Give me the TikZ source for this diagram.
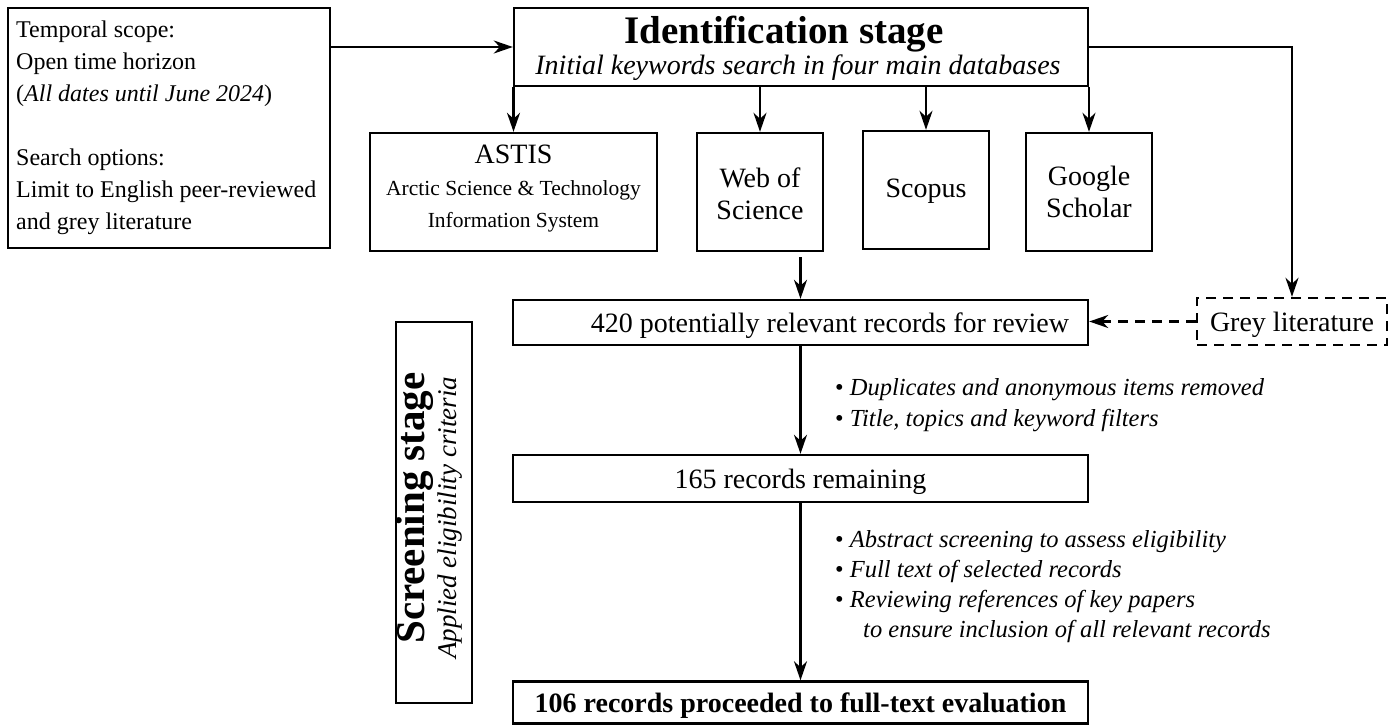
\documentclass[tikz,border=0pt]{standalone}
\usepackage{fontspec}
\setmainfont{Liberation Serif}
\usetikzlibrary{arrows.meta}
\newcommand\myfs[1]{\fontsize{#1}{#1}\selectfont}
\begin{document}
\begin{tikzpicture}[x=1pt,y=-1pt,
  box/.style={draw, line width=2.4pt, inner sep=0pt},
  arr/.style={line width=2.4pt, -{Stealth[length=19pt,width=13pt,inset=6pt]}},
  txt/.style={inner sep=0pt, anchor=base},
  ltxt/.style={inner sep=0pt, anchor=base west},
  body/.style={font=\myfs{24}},
  dbf/.style={font=\myfs{28}},
  bul/.style={font=\myfs{24.5}},
]
\useasboundingbox (0,0) rectangle (1398,726);

% boxes
\node[box, minimum width=322pt, minimum height=240pt] (scope) at (169,128) {};
\node[box, minimum width=574pt, minimum height=78pt] (ident) at (801,47) {};
\node[box, minimum width=287pt, minimum height=118pt] (astis) at (513.5,192) {};
\node[box, minimum width=126pt, minimum height=118pt] (wos) at (760,192) {};
\node[box, minimum width=126pt, minimum height=118pt] (scopus) at (926,190) {};
\node[box, minimum width=126pt, minimum height=118pt] (google) at (1089,192) {};
\node[box, minimum width=575pt, minimum height=45pt] (r420) at (800.5,322.5) {};
\node[box, dash pattern=on 10pt off 7pt, minimum width=190pt, minimum height=47pt] (grey) at (1292,321.5) {};
\node[box, minimum width=575pt, minimum height=47pt] (r165) at (800.5,478.5) {};
\node[box, minimum width=575pt, minimum height=42pt] (r106) at (800.5,702.5) {};
\node[box, minimum width=76pt, minimum height=381pt] (screen) at (434,512.5) {};

% texts: scope box
\node[ltxt, body] (l1) at (16,37) {Temporal scope:};
\node[ltxt, body] (l2) at (16,69) {Open time horizon};
\node[ltxt, body] (l3) at (16,101) {(\textit{All dates until June 2024})};
\node[ltxt, body] (l4) at (16,165) {Search options:};
\node[ltxt, body] (l5) at (16,197) {Limit to English peer-reviewed};
\node[ltxt, body] (l6) at (16,229) {and grey literature};

% identification
\node[txt, font=\myfs{39}\bfseries] (idt) at (784,43) {Identification stage};
\node[txt, font=\myfs{28}\itshape] (ids) at (798,74) {Initial keywords search in four main databases};

% databases
\node[txt, dbf] (a1) at (513.5,163) {ASTIS};
\node[txt, font=\myfs{21.5}] (a2) at (513.5,195) {Arctic Science \& Technology};
\node[txt, font=\myfs{21.5}] (a3) at (513.5,227) {Information System};
\node[txt, dbf] (w1) at (760,187) {Web of};
\node[txt, dbf] (w2) at (760,219) {Science};
\node[txt, dbf] (s1) at (926,197) {Scopus};
\node[txt, dbf] (g1) at (1089,185) {Google};
\node[txt, dbf] (g2) at (1089,217) {Scholar};

% records
\node[txt, dbf] (t420) at (830,332) {420 potentially relevant records for review};
\node[txt, dbf] (tgrey) at (1292,331) {Grey literature};
\node[txt, dbf] (t165) at (800.5,488) {165 records remaining};
\node[txt, font=\myfs{28}\bfseries] (t106) at (800.5,712) {106 records proceeded to full-text evaluation};

% bullets
\node[ltxt, bul] (b1) at (835,395) {\textbullet\ \textit{Duplicates and anonymous items removed}};
\node[ltxt, bul] (b2) at (835,426) {\textbullet\ \textit{Title, topics and keyword filters}};
\node[ltxt, bul] (b3) at (835,547) {\textbullet\ \textit{Abstract screening to assess eligibility}};
\node[ltxt, bul] (b4) at (835,577) {\textbullet\ \textit{Full text of selected records}};
\node[ltxt, bul] (b5) at (835,607) {\textbullet\ \textit{Reviewing references of key papers}};
\node[ltxt, bul] (b6) at (863,637) {\textit{to ensure inclusion of all relevant records}};

% screening
\node[txt, rotate=90, font=\myfs{41}\bfseries] (sc1) at (424,508) {Screening stage};
\node[txt, rotate=90, font=\myfs{27}\itshape] (sc2) at (456,518) {Applied eligibility criteria};

% connectors
\coordinate (wosout) at (800.5,257);
\draw[arr] (scope.east |- ident.west) -- (ident.west);
\draw[arr] (astis.north |- ident.south) -- (astis.north);
\draw[arr] (wos.north |- ident.south) -- (wos.north);
\draw[arr] (scopus.north |- ident.south) -- (scopus.north);
\draw[arr] (google.north |- ident.south) -- (google.north);
\draw[arr] (ident.east) -| (grey.north);
\draw[arr] (wosout) -- (r420.north);
\draw[arr, dash pattern=on 10pt off 7pt] (grey.west) -- (r420.east |- grey.west);
\draw[arr] (r420.south) -- (r165.north);
\draw[arr] (r165.south) -- (r106.north);
\end{tikzpicture}
\end{document}
